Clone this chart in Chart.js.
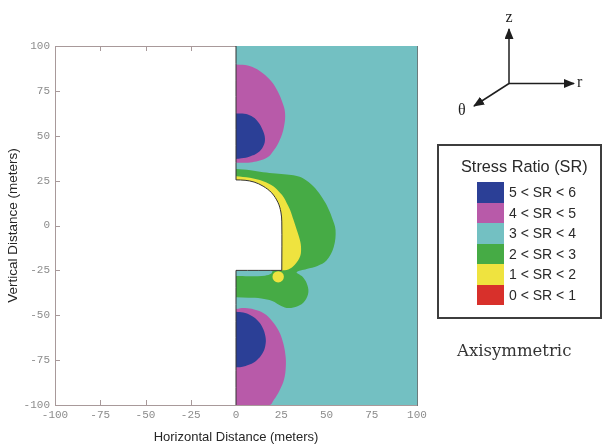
<!DOCTYPE html>
<html>
<head>
<meta charset="utf-8">
<script src="https://cdn.jsdelivr.net/npm/chart.js@4.4.1/dist/chart.umd.min.js"></script>
<style>
  html, body { margin: 0; padding: 0; background: #fff; }
  #wrap { position: relative; width: 605px; height: 445px; overflow: hidden; }
  #c { position: absolute; left: 0; top: 0; }
  #legend { position: absolute; left: 437px; top: 144px; width: 161px; height: 171px;
            border: 2px solid #3d3d3d; font-family: "Liberation Sans", Arial, sans-serif; color: #2a2a2a; }
  #legend .ttl { position: absolute; left: 22px; top: 11px; font-size: 16.3px; line-height: 19px; white-space: nowrap; }
  #legend .rows { position: absolute; left: 38px; top: 36px; }
  #legend .row { display: flex; height: 20.5px; align-items: center; }
  #legend .sw { width: 27px; height: 20.5px; }
  #legend .lb { margin-left: 5px; font-size: 14px; line-height: 20.5px; white-space: nowrap; }
  #axi { position: absolute; left: 457px; top: 341px; font-family: "DejaVu Serif", serif; font-size: 16.5px; line-height: 20px; color: #333; }
  #tri { position: absolute; left: 0; top: 0; }
</style>
</head>
<body>
<div id="wrap">
  <canvas id="c" width="605" height="445"></canvas>
  <svg id="tri" width="605" height="130">
    <defs>
      <marker id="ah" markerWidth="11" markerHeight="9" refX="10" refY="4.5" orient="auto" markerUnits="userSpaceOnUse">
        <path d="M0,0 L11,4.5 L0,9 z" fill="#1e1e1e"/>
      </marker>
    </defs>
    <g stroke="#1e1e1e" stroke-width="1.5">
      <line x1="509" y1="83.5" x2="509" y2="29" marker-end="url(#ah)"/>
      <line x1="509" y1="83.5" x2="574" y2="83.5" marker-end="url(#ah)"/>
      <line x1="509" y1="83.5" x2="474" y2="106" marker-end="url(#ah)"/>
    </g>
    <g font-family="Liberation Serif, serif" font-size="16" fill="#1e1e1e">
      <text x="509" y="22" text-anchor="middle">z</text>
      <text x="577" y="87">r</text>
      <text x="458" y="115">θ</text>
    </g>
  </svg>
  <div id="legend">
    <div class="ttl">Stress Ratio (SR)</div>
    <div class="rows" id="rows"></div>
  </div>
  <div id="axi">Axisymmetric</div>
</div>
<script>
// tick values on both axes (meters)
var tickVals = [-100, -75, -50, -25, 0, 25, 50, 75, 100];

// legend classes
var srLabels = ['5 < SR < 6', '4 < SR < 5', '3 < SR < 4', '2 < SR < 3', '1 < SR < 2', '0 < SR < 1'];

// contour outlines, [r, z] in meters
var tealZone = [[0, 100], [100, 100], [100, -100], [0, -100]];
var magentaTop = [[0, 89.7], [7, 89], [13.3, 86], [18.5, 81.5], [22.5, 75.8], [25.5, 69], [27.1, 62.8],
                  [26.5, 55], [24.3, 47.9], [21, 42], [17, 37.7], [9, 35.3], [0, 35]];
var blueTop = [[0, 62.4], [4.5, 62.3], [8.5, 61], [12, 58], [14.6, 53.5], [16, 48.5], [15, 44],
               [12, 40.5], [7.7, 38.5], [3, 37.4], [0, 37]];
var magentaBot = [[0, -46.5], [5, -46], [10, -46.8], [15.5, -49], [19.8, -53], [23.5, -58.5], [25.8, -64.5],
                  [27.3, -72], [27.5, -79], [26.5, -86], [24, -92], [21, -97], [18.5, -100], [0, -100]];
var blueBot = [[0, -48], [4, -48.5], [8, -50], [11.5, -52.5], [14.5, -56.5], [16.3, -62], [16.2, -67],
               [14.5, -71.5], [11.5, -75], [7.5, -77.5], [3, -78.8], [0, -79]];
var greenZone = [[0, 31.5], [8, 30.8], [15, 29.7], [22, 29], [28, 28.4], [33, 27.7], [37.2, 26.2],
                 [42.7, 21.9], [47, 16.5], [50, 11.5], [53, 4.5], [55, -2.5], [54, -12], [50, -19.5],
                 [45, -22.5], [39, -24.2], [33.5, -26], [36.5, -28.3], [39, -32], [40, -37], [38, -42],
                 [34, -45], [29, -46], [25, -44.8], [20, -42], [14, -40.6], [7, -40.3], [0, -40]];
var tealStrip = [[0, -24.5], [20, -24.5], [19.5, -26.8], [16, -28], [8, -28.3], [0, -28.2]];
var yellowZone = [[0, 27.5], [7.7, 26.6], [15, 24.7], [20.6, 21.9], [24.3, 18.2], [26.5, 15.5], [28, 12.6],
                  [29.8, 8.9], [31.8, 3], [33.5, -2.2], [35, -7], [35.9, -11.5], [35.5, -17],
                  [32.6, -21.7], [28.9, -24.5], [25, -25], [0, -25]];
var yellowSpot = [[23.3, -28.6]];
var opening = [[0, 100], [0, 25.4], [0, 25.4], [5, 25.2], [10, 24.2], [15, 21.9], [19.7, 18.2],
               [23.2, 12.8], [24.8, 7.5], [25.3, 2], [25.3, -25], [25.3, -25], [0, -25],
               [0, -25], [0, -100]];

var palette = {
  blue: '#2b3f96', magenta: '#b85aa9', teal: '#73c0c2',
  green: '#46ab45', yellow: '#efe33f', red: '#d8302b'
};
var srColors = [palette.blue, palette.magenta, palette.teal, palette.green, palette.yellow, palette.red];

function pts(a) {
  return a.map(function (p) { return {x: p[0], y: p[1]}; });
}

function zone(a, color, tension) {
  return {
    data: pts(a), showLine: true, fill: 'shape',
    backgroundColor: color, borderColor: color, borderWidth: 0,
    pointRadius: 0, tension: tension
  };
}

// legend rows
var rows = document.getElementById('rows');
srLabels.forEach(function (t, i) {
  var r = document.createElement('div');
  r.className = 'row';
  r.innerHTML = '<div class="sw" style="background:' + srColors[i] + '"></div><div class="lb"></div>';
  r.querySelector('.lb').textContent = t;
  rows.appendChild(r);
});

var frameColor = '#a8999a';

// short tick marks drawn inside the frame
var innerTicks = {
  id: 'innerTicks',
  beforeDatasetsDraw: function (chart) {
    var ctx = chart.ctx, a = chart.chartArea, x = chart.scales.x, y = chart.scales.y;
    ctx.save();
    ctx.strokeStyle = frameColor;
    ctx.lineWidth = 1;
    ctx.beginPath();
    tickVals.forEach(function (v) {
      var py = Math.round(y.getPixelForValue(v)) + 0.5;
      ctx.moveTo(a.left, py); ctx.lineTo(a.left + 5, py);
      var px = Math.round(x.getPixelForValue(v)) + 0.5;
      ctx.moveTo(px, a.bottom); ctx.lineTo(px, a.bottom - 5);
      ctx.moveTo(px, a.top); ctx.lineTo(px, a.top + 5);
    });
    ctx.stroke();
    ctx.restore();
  }
};

var openingSet = zone(opening, '#ffffff', 0.35);
openingSet.borderColor = '#333333';
openingSet.borderWidth = 1;

var datasets = [
  openingSet,
  {data: pts(yellowSpot), pointRadius: 5.7, pointBackgroundColor: palette.yellow, pointBorderWidth: 0},
  zone(yellowZone, palette.yellow, 0.35),
  zone(tealStrip, palette.teal, 0.3),
  zone(greenZone, palette.green, 0.35),
  zone(blueTop, palette.blue, 0.4),
  zone(blueBot, palette.blue, 0.4),
  zone(magentaTop, palette.magenta, 0.4),
  zone(magentaBot, palette.magenta, 0.4),
  zone(tealZone, palette.teal, 0)
];

var tickFont = {family: "'Liberation Mono', monospace", size: 11};

function setTicks(s) { s.ticks = tickVals.map(function (v) { return {value: v}; }); }

new Chart(document.getElementById('c').getContext('2d'), {
  type: 'scatter',
  data: {datasets: datasets},
  options: {
    responsive: false,
    animation: false,
    events: [],
    layout: {padding: {left: 0, top: 46, right: 188, bottom: 0}},
    plugins: {legend: {display: false}, tooltip: {enabled: false}},
    scales: {
      x: {
        type: 'linear', position: 'bottom', min: -100, max: 100,
        afterBuildTicks: setTicks,
        ticks: {font: tickFont, color: '#8c8c8c', padding: 3, maxRotation: 0, autoSkip: false,
                callback: function (v) { return String(v); }},
        grid: {display: false, drawTicks: false},
        border: {display: true, color: frameColor, width: 1},
        title: {display: true, text: 'Horizontal Distance (meters)', color: '#262626',
                font: {family: "'Liberation Sans', Arial, sans-serif", size: 13},
                padding: {top: 0, bottom: 0}},
        afterFit: function (s) { s.height = 40; }
      },
      y: {
        type: 'linear', position: 'left', min: -100, max: 100,
        afterBuildTicks: setTicks,
        ticks: {font: tickFont, color: '#8c8c8c', padding: 5, autoSkip: false,
                callback: function (v) { return String(v); }},
        grid: {display: false, drawTicks: false},
        border: {display: true, color: frameColor, width: 1},
        title: {display: true, text: 'Vertical Distance (meters)', color: '#262626',
                font: {family: "'Liberation Sans', Arial, sans-serif", size: 13.5},
                padding: {top: 5, bottom: 0}},
        afterFit: function (s) { s.width = 55; }
      },
      x2: {
        type: 'linear', position: 'top', min: -100, max: 100,
        ticks: {display: false},
        grid: {display: false, drawTicks: false},
        border: {display: true, color: frameColor, width: 1},
        afterFit: function (s) { s.height = 0; }
      },
      y2: {
        type: 'linear', position: 'right', min: -100, max: 100,
        ticks: {display: false},
        grid: {display: false, drawTicks: false},
        border: {display: true, color: '#6b7b7c', width: 1, z: 1},
        afterFit: function (s) { s.width = 0; }
      }
    }
  },
  plugins: [innerTicks]
});
</script>
</body>
</html>
